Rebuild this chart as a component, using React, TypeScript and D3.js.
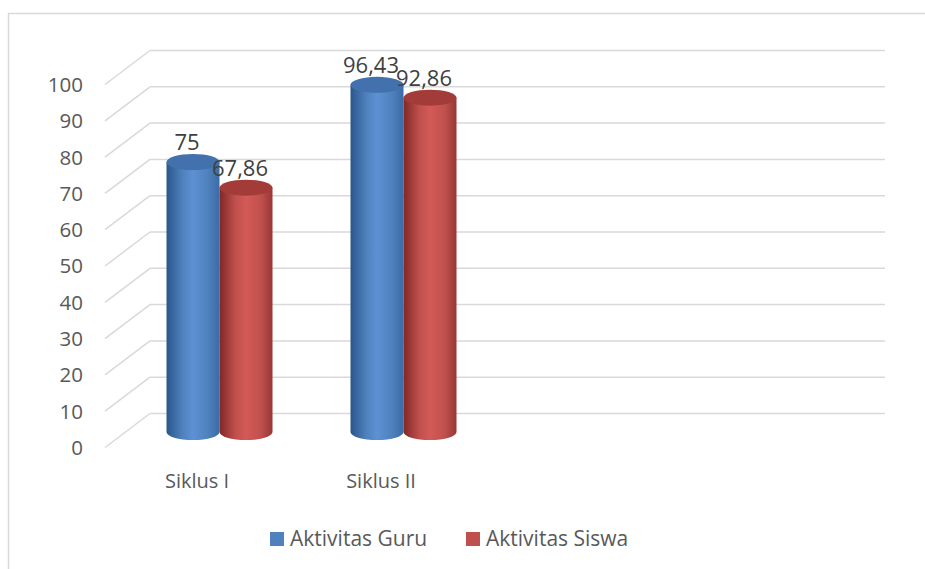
import React from "react";
import * as d3 from "d3";

const categories = ["Siklus I", "Siklus II"];
const slotCount = 4; // the source sheet had four category slots, two are empty
const seriesNames = ["Aktivitas Guru", "Aktivitas Siswa"];
const guru = [75, 96.43];
const siswa = [67.86, 92.86];
const yTicks = [0, 10, 20, 30, 40, 50, 60, 70, 80, 90, 100];

const W = 925;
const H = 569;
const depthX = 45;
const depthY = 34;
const textColor = "#595959";
const gridColor = "#d9d9d9";

const palettes = [
  { dark: "#2a568c", mid: "#4f81bd", light: "#5d91d4", right: "#3b6ba6", top: "#4271ae" },
  { dark: "#7f2826", mid: "#c0504d", light: "#d35a57", right: "#973734", top: "#a33c39" },
];

const fmt = (v: number) => String(v).replace(".", ",");

export default function App() {
  const series = [guru, siswa];

  // back wall scale
  const yBack = d3.scaleLinear().domain([0, 100]).range([413.5, 50.5]);
  // bars stand half way into the floor
  const yBar = d3.scaleLinear().domain([0, 100]).range([432, 72]);
  const xFront = d3.scaleBand<number>().domain(d3.range(slotCount)).range([105, 105 + 736]);
  const xMid = d3.scaleBand<number>().domain(d3.range(slotCount)).range([105 + depthX / 2, 105 + depthX / 2 + 736]);
  const barW = 53;
  const xSeries = d3.scaleBand<number>().domain([0, 1]).range([-barW, barW]);
  const ry = 8;

  return (
    <svg width={W} height={H} style={{ position: "absolute", left: 0, top: 0 }} fontFamily="'Open Sans', sans-serif">
      <defs>
        {palettes.map((p, i) => (
          <linearGradient key={i} id={`cyl${i}`} x1="0" x2="1" y1="0" y2="0">
            <stop offset="0" stopColor={p.dark} />
            <stop offset="0.3" stopColor={p.mid} />
            <stop offset="0.5" stopColor={p.light} />
            <stop offset="0.78" stopColor={p.mid} />
            <stop offset="1" stopColor={p.right} />
          </linearGradient>
        ))}
      </defs>
      <rect width={W} height={H} fill="#fff" />
      {/* frame */}
      <path d={`M8.5,${H} V13.5 H${W}`} fill="none" stroke={gridColor} strokeWidth={1.5} />

      {/* gridlines */}
      {yTicks.map((t) => {
        const yb = yBack(t);
        return (
          <g key={t}>
            <line x1={105} y1={yb + depthY} x2={150} y2={yb} stroke={gridColor} strokeWidth={1.5} />
            <line x1={150} y1={yb} x2={885} y2={yb} stroke={gridColor} strokeWidth={1.5} />
            <text x={83} y={yb + depthY + 2} textAnchor="end" dominantBaseline="middle" fontSize={20.5} fill={textColor}>
              {t}
            </text>
          </g>
        );
      })}

      {/* cylinders */}
      {categories.map((c, ci) => {
        const cx0 = (xMid(ci) as number) + xMid.bandwidth() / 2;
        return (
          <g key={c}>
            {series.map((vals, si) => {
              const v = vals[ci];
              const x = cx0 + (xSeries(si) as number);
              const rx = barW / 2;
              const yt = yBar(v);
              const yb = yBar(0);
              const body = `M${x},${yt} V${yb} A${rx},${ry} 0 0 0 ${x + barW},${yb} V${yt} Z`;
              return (
                <g key={si}>
                  <path d={body} fill={`url(#cyl${si})`} />
                  <ellipse cx={x + rx} cy={yt} rx={rx} ry={ry} fill={palettes[si].top} />
                </g>
              );
            })}
          </g>
        );
      })}

      {/* data labels */}
      {categories.map((c, ci) => {
        const cx0 = (xMid(ci) as number) + xMid.bandwidth() / 2;
        return series.map((vals, si) => {
          const v = vals[ci];
          const x = cx0 + (xSeries(si) as number) + barW / 2 - 6;
          return (
            <text key={`${c}-${si}`} x={x} y={yBar(v) - ry - 4} textAnchor="middle" fontSize={22} fill="#404040">
              {fmt(v)}
            </text>
          );
        });
      })}

      {/* category labels */}
      {categories.map((c, ci) => (
        <text
          key={c}
          x={(xFront(ci) as number) + xFront.bandwidth() / 2}
          y={488}
          textAnchor="middle"
          fontSize={20}
          fill={textColor}
        >
          {c}
        </text>
      ))}

      {/* legend */}
      {seriesNames.map((n, i) => {
        const lx = i === 0 ? 270 : 466;
        return (
          <g key={n}>
            <rect x={lx} y={532} width={14} height={14} fill={palettes[i].mid} />
            <text x={lx + 20} y={546} fontSize={21} fill={textColor}>
              {n}
            </text>
          </g>
        );
      })}
    </svg>
  );
}
